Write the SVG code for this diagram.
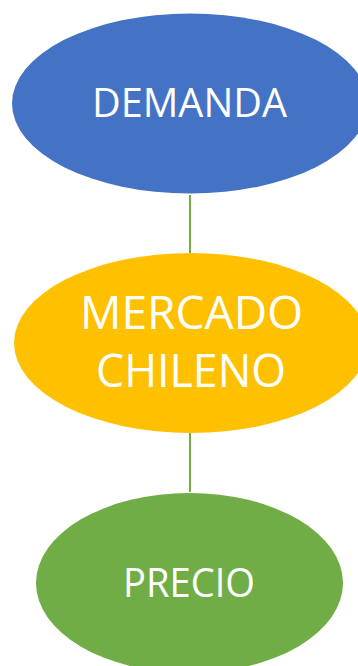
<svg xmlns="http://www.w3.org/2000/svg" width="358" height="666" viewBox="0 0 358 666">
<style>
.lbl{font-family:"Open Sans","Noto Sans",sans-serif;fill:#fff;text-anchor:middle}
.conn{stroke:#70AD47;stroke-width:2;fill:none}
</style>
<rect width="358" height="666" fill="#fff"/>
<g id="connectors">
<line class="conn" x1="190" y1="195" x2="190" y2="253"/>
<line class="conn" x1="190" y1="433" x2="190" y2="492"/>
</g>
<g id="demanda">
<ellipse cx="190" cy="103.5" rx="178" ry="90" fill="#4472C4"/>
<text class="lbl" x="189.5" y="117" font-size="40" textLength="195" lengthAdjust="spacingAndGlyphs">DEMANDA</text>
</g>
<g id="mercado">
<ellipse cx="191" cy="343" rx="177" ry="90" fill="#FFC000"/>
<text class="lbl" x="191.5" y="329" font-size="46" textLength="223" lengthAdjust="spacingAndGlyphs">MERCADO</text>
<text class="lbl" x="191" y="387" font-size="46" textLength="190" lengthAdjust="spacingAndGlyphs">CHILENO</text>
</g>
<g id="precio">
<ellipse cx="189.5" cy="583" rx="153.5" ry="90" fill="#70AD47"/>
<text class="lbl" x="189" y="597" font-size="41" textLength="132" lengthAdjust="spacingAndGlyphs">PRECIO</text>
</g>
</svg>
